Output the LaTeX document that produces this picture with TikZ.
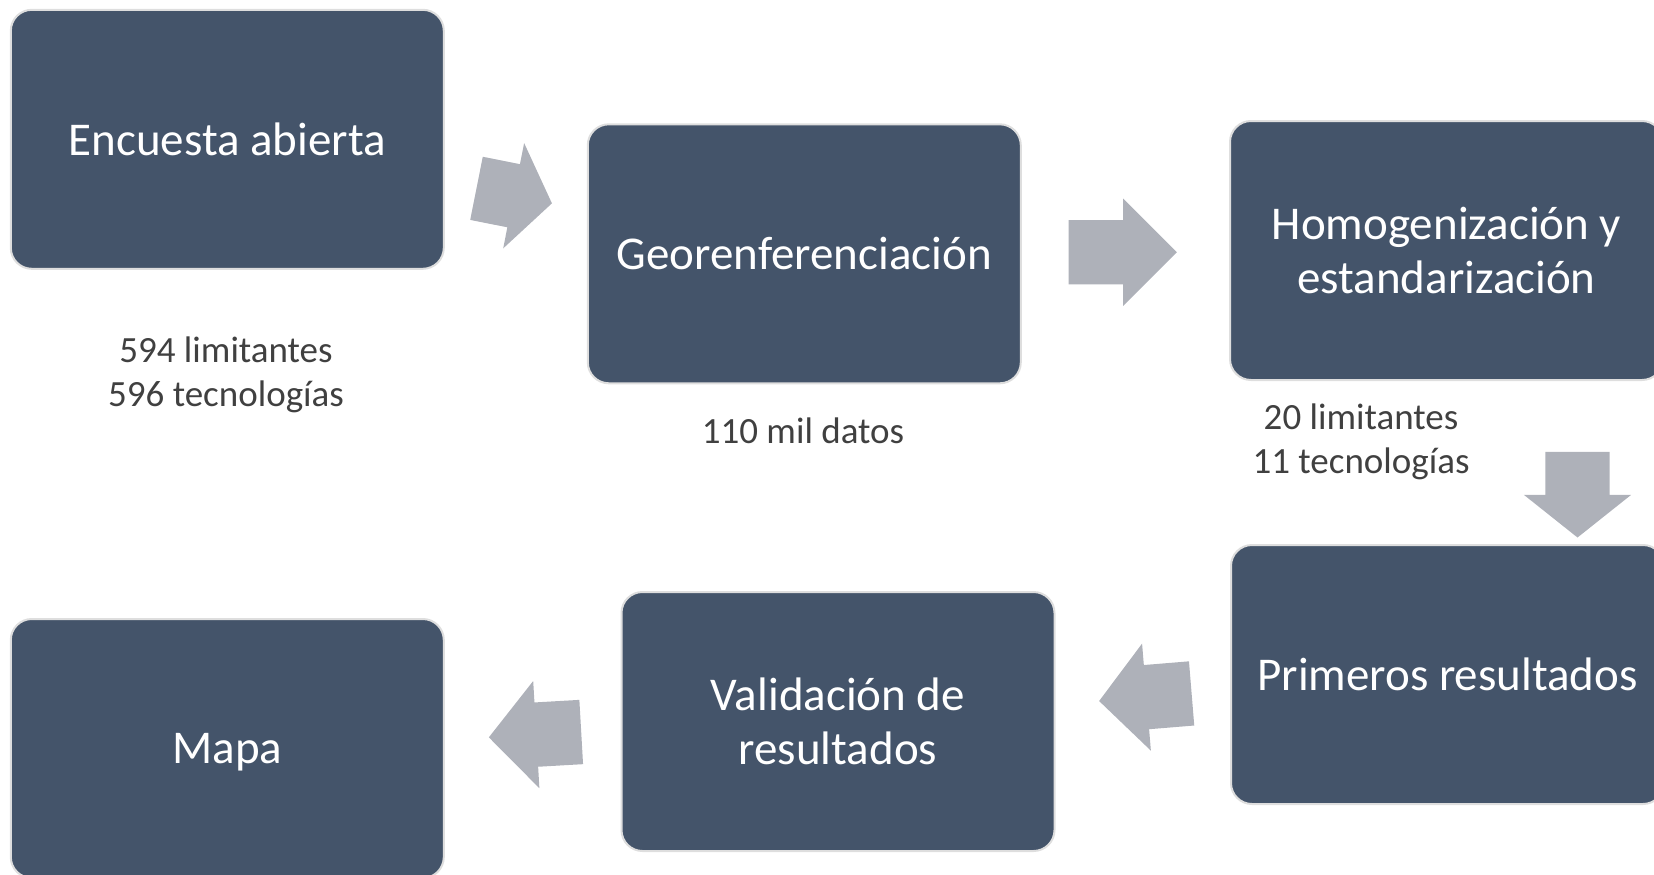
\documentclass[tikz,border=0pt]{standalone}
\usepackage{fontspec}
\setmainfont{Carlito}
\usetikzlibrary{shapes.arrows}

\definecolor{boxblue}{RGB}{68,84,106}
\definecolor{arrowgray}{RGB}{174,177,185}
\definecolor{boxrim}{RGB}{222,222,222}
\definecolor{notegray}{RGB}{64,64,64}

\tikzset{
  stepbox/.style={draw=boxrim, line width=2pt, fill=boxblue, rounded corners=21pt,
    minimum width=433pt, minimum height=259pt, inner sep=0pt,
    text=white, align=center, font=\fontsize{47}{54}\selectfont},
  notetext/.style={text=notegray, align=center, font=\fontsize{37}{44}\selectfont},
  flowarrow/.style={single arrow, fill=arrowgray, draw=none, anchor=tail,
    inner xsep=0pt, inner ysep=32pt, single arrow head extend=21.5pt}
}

\begin{document}
\begin{tikzpicture}[x=1pt, y=-1pt]
          \useasboundingbox (0,0) rectangle (1654,875);
          \clip (0,0) rectangle (1654,875);

          % pasos
          \node[stepbox] (enc)    at (227.3, 139.3) {Encuesta abierta};
          \node[stepbox] (geo)    at (804.3, 253.8) {Georenferenciación};
          \node[stepbox] (homog)  at (1446.5, 250.5) {Homogenización y\\estandarización};
          \node[stepbox] (prim)   at (1447.5, 674.5) {Primeros resultados};
          \node[stepbox] (valid)  at (838.0, 721.5) {Validación de\\resultados};
          \node[stepbox, text depth=0pt] (mapa) at (227.3, 748.5) {Mapa};

          % notas
          \node[notetext] (n1) at (226, 375) {594 limitantes\\596 tecnologías};
          \node[notetext] (n2) at (803, 431) {110 mil datos};
          \node[notetext] (n3) at (1361, 442) {20 limitantes\\11 tecnologías};

          % flechas
          \node[flowarrow, rotate=-11.25, minimum height=76.9pt, single arrow tip angle=108] (arr1) at (476.3, 188.3) {};
          \node[flowarrow, minimum height=108.4pt, single arrow tip angle=90] (arr2) at (1068.3, 252.2) {};
          \node[flowarrow, rotate=-90, minimum height=85.6pt, single arrow tip angle=103] (arr3) at (1577.5, 451.7) {};
          \node[flowarrow, rotate=184.7, minimum height=92.8pt, single arrow tip angle=97] (arr4) at (1191.8, 693.4) {};
          %\node[flowarrow, rotate=180] at (1190, 700) {};
          \node[flowarrow, rotate=183.3, minimum height=92.5pt, single arrow tip angle=97] (arr5) at (581.4, 732.0) {};

        \end{tikzpicture}
\end{document}
